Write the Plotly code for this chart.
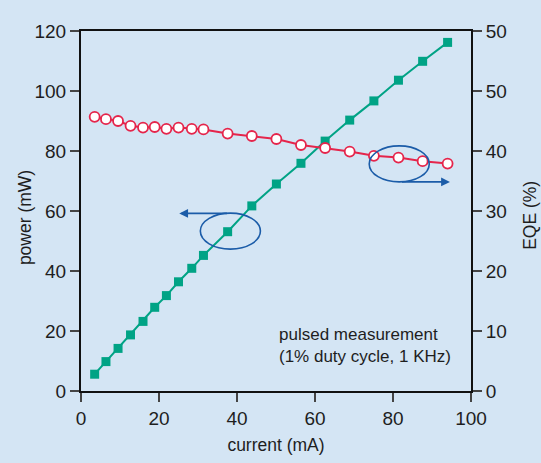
import plotly.graph_objects as go

# ---- data ----
current_mA = [3.5, 6.4, 9.5, 12.7, 15.9, 18.9, 21.9, 25.0, 28.4, 31.4,
              37.6, 43.8, 50.1, 56.4, 62.6, 68.9, 75.1, 81.4, 87.6, 94.0]
power_mW = [5.6, 9.8, 14.2, 18.7, 23.2, 27.9, 31.8, 36.4, 40.9, 45.2,
            53.1, 61.7, 69.0, 75.9, 83.3, 90.3, 96.7, 103.6, 109.9, 116.2]
# EQE plotted against the right axis as drawn (ticks every 10, 60 px apart)
eqe_pct = [45.7, 45.3, 45.0, 44.2, 43.9, 44.0, 43.7, 43.9, 43.7, 43.6,
           42.9, 42.5, 42.0, 41.0, 40.5, 39.9, 39.2, 38.9, 38.3, 37.9]

x_ticks = [0, 20, 40, 60, 80, 100]
y_ticks = [0, 20, 40, 60, 80, 100, 120]
y2_tickvals = [0, 10, 20, 30, 40, 50, 60]
y2_ticktext = ["0", "10", "20", "30", "40", "50", "50"]

BG = "#D4E5F4"
GREEN = "#00A385"
RED = "#E5254B"
BLUE = "#1B5CA8"
FONT = "Liberation Sans, Arial, sans-serif"
TXT = "#1e1e1e"

fig = go.Figure()
fig.add_trace(go.Scatter(
    x=current_mA, y=power_mW, mode="lines+markers",
    line=dict(color=GREEN, width=2),
    marker=dict(symbol="square", size=9, color=GREEN),
    showlegend=False, yaxis="y"))
fig.add_trace(go.Scatter(
    x=current_mA, y=eqe_pct, mode="lines+markers",
    line=dict(color=RED, width=2),
    marker=dict(symbol="circle", size=10, color="white",
                line=dict(color=RED, width=1.8)),
    showlegend=False, yaxis="y2"))

axis_common = dict(showline=True, linecolor="#111", linewidth=2,
                   ticks="outside", ticklen=9, tickwidth=2, tickcolor="#444",
                   showgrid=False, zeroline=False, automargin=False,
                   tickfont=dict(family=FONT, size=19, color=TXT))

fig.update_layout(
    width=541, height=463,
    margin=dict(l=81, r=70, t=31, b=72),
    paper_bgcolor=BG, plot_bgcolor=BG,
    font=dict(family=FONT, color=TXT),
    xaxis=dict(range=[0, 100], tickvals=x_ticks, mirror=True,
               title=dict(text="current (mA)", font=dict(size=17.5), standoff=11),
               **axis_common),
    yaxis=dict(range=[0, 120], tickvals=y_ticks, **axis_common),
    yaxis2=dict(range=[0, 60], tickvals=y2_tickvals, ticktext=y2_ticktext,
                overlaying="y", side="right", **axis_common),
)

# y-axis titles
fig.add_annotation(x=-0.1436, y=0.483, xref="paper", yref="paper",
                   text="power (mW)", textangle=-90, showarrow=False,
                   xanchor="center", yanchor="middle",
                   font=dict(family=FONT, size=17.5, color=TXT))
fig.add_annotation(x=1.151, y=0.489, xref="paper", yref="paper",
                   text="EQE (%)", textangle=-90, showarrow=False,
                   xanchor="center", yanchor="middle",
                   font=dict(family=FONT, size=17.5, color=TXT))

# ellipses
fig.add_shape(type="circle", xref="x", yref="y", x0=30.6, x1=46.0, y0=47.3, y1=59.3,
              line=dict(color=BLUE, width=1.6))
fig.add_shape(type="circle", xref="x", yref="y", x0=73.9, x1=89.3, y0=69.7, y1=81.7,
              line=dict(color=BLUE, width=1.6))
# arrows
fig.add_annotation(x=25.2, y=59.2, ax=37.8, ay=59.2, xref="x", yref="y",
                   axref="x", ayref="y", text="", showarrow=True,
                   arrowhead=2, arrowsize=1.1, arrowwidth=1.6, arrowcolor=BLUE)
fig.add_annotation(x=94.6, y=69.7, ax=81.9, ay=69.7, xref="x", yref="y",
                   axref="x", ayref="y", text="", showarrow=True,
                   arrowhead=2, arrowsize=1.1, arrowwidth=1.6, arrowcolor=BLUE)
# note text
fig.add_annotation(x=50.3, y=15.3, xref="x", yref="y", xanchor="left", yanchor="middle",
                   text="pulsed measurement<br>(1% duty cycle, 1 KHz)",
                   showarrow=False, align="left",
                   font=dict(family=FONT, size=17, color=TXT))

fig.write_html("out.html")
